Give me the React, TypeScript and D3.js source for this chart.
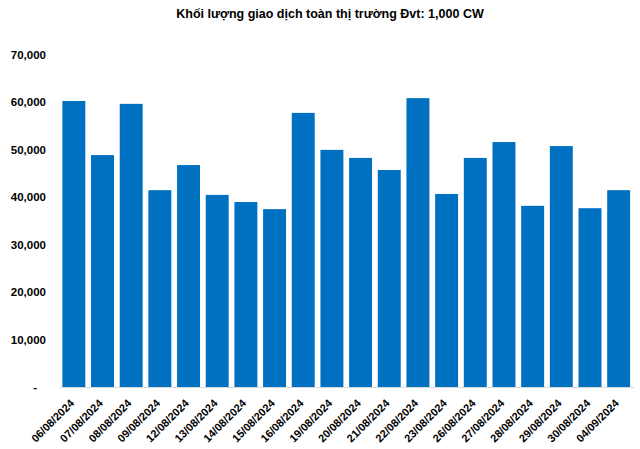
import React from "react";
import * as d3 from "d3";

const categories = ["06/08/2024","07/08/2024","08/08/2024","09/08/2024","12/08/2024","13/08/2024","14/08/2024","15/08/2024","16/08/2024","19/08/2024","20/08/2024","21/08/2024","22/08/2024","23/08/2024","26/08/2024","27/08/2024","28/08/2024","29/08/2024","30/08/2024","04/09/2024"];
const values = [60300,48900,59700,41500,46800,40500,39000,37500,57800,50000,48300,45750,60900,40700,48300,51650,38200,50800,37700,41500];
const yTicks = [0,10000,20000,30000,40000,50000,60000,70000];
const title = "Khối lượng giao dịch toàn thị trường Đvt: 1,000 CW";

export default function App() {
  const W = 640, H = 449;
  const x = d3.scaleBand<string>().domain(categories).range([59.5, 633]).paddingInner(0.2).paddingOuter(0.1);
  const y = d3.scaleLinear().domain([0, 70000]).range([387, 55]);
  const fmt = (v: number) => (v === 0 ? "-" : d3.format(",")(v));
  const font = "Arial, 'Liberation Sans', sans-serif";
  return (
    <svg width={W} height={H} style={{ position: "absolute", left: 0, top: 0 }} fontFamily={font}>
      <rect width={W} height={H} fill="#fff" />
      <text x={330} y={18} textAnchor="middle" fontSize={12.5} fontWeight="bold" fill="#000">{title}</text>
      {yTicks.map(t => (
        <text key={t} x={t === 0 ? 37 : 46} y={y(t) + 4} textAnchor="end" fontSize={11.5} fontWeight="bold" fill="#000">{fmt(t)}</text>
      ))}
      {categories.map((c, i) => (
        <rect key={c} x={x(c)} y={y(values[i])} width={x.bandwidth()} height={y(0) - y(values[i])} fill="#0070C0" />
      ))}
      <line x1={60} x2={634} y1={387.5} y2={387.5} stroke="#d9d9d9" strokeWidth={1} />
      {categories.map(c => {
        const cx = (x(c) as number) + x.bandwidth() / 2 + 1;
        return (
          <text key={c} transform={`translate(${cx},${404}) rotate(-45)`} textAnchor="end" fontSize={11} fontWeight="bold" fill="#000">{c}</text>
        );
      })}
    </svg>
  );
}
